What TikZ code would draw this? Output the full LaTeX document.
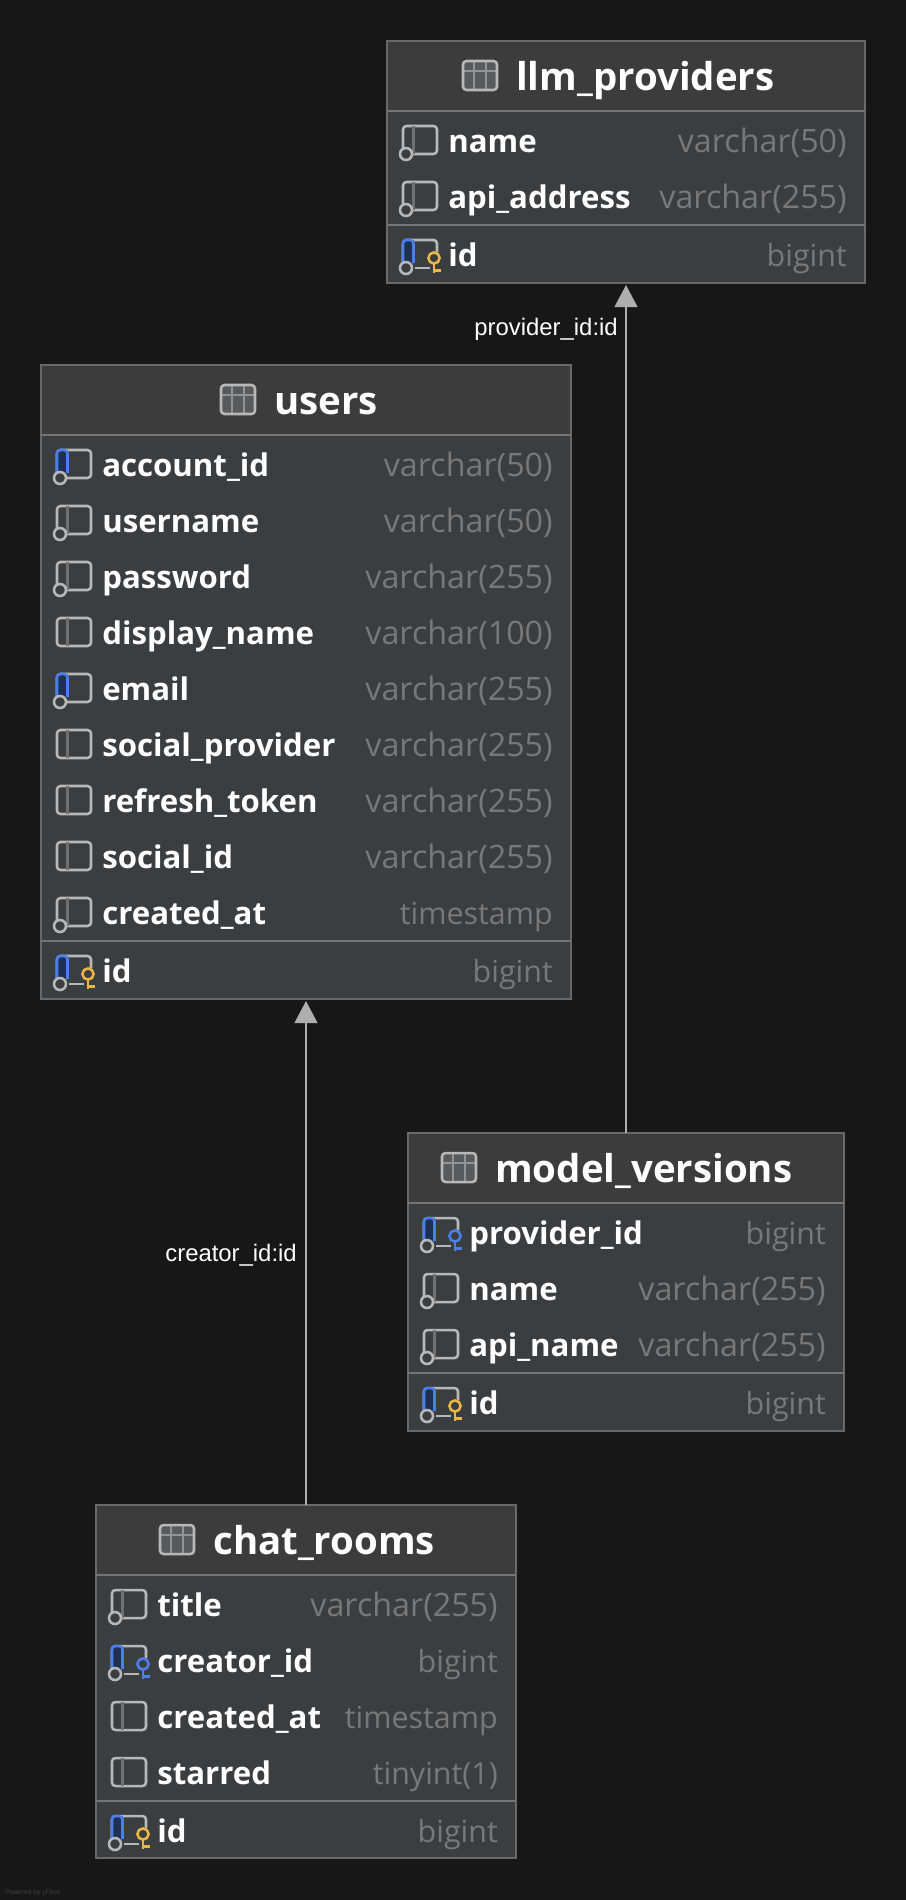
\documentclass[tikz,border=0pt]{standalone}
\usepackage{fontspec}
\setmainfont{Open Sans}
\newfontfamily\labelfont{Liberation Sans}
\usetikzlibrary{arrows.meta}
\definecolor{bgc}{HTML}{171717}
\definecolor{headc}{HTML}{3C3C3C}
\definecolor{rowc}{HTML}{3B3E41}
\definecolor{edgec}{HTML}{696969}
\definecolor{sepc}{HTML}{757575}
\definecolor{typec}{HTML}{787878}
\definecolor{iconc}{HTML}{B8B8B8}
\definecolor{divc}{HTML}{707070}
\definecolor{bluec}{HTML}{4B80EC}
\definecolor{bluedark}{HTML}{1F3152}
\definecolor{goldc}{HTML}{EBB544}
\definecolor{linkc}{HTML}{AEAEAE}
\newcommand{\narrowtype}[1]{{\fontsize{22.8}{27}\selectfont #1}}
\tikzset{
  tablebox/.style={draw=edgec,fill=rowc,line width=1.2pt,inner sep=0pt,outer sep=0pt,anchor=north west},
  titletext/.style={text=white,font=\fontsize{28.8}{36}\selectfont\bfseries,anchor=base west,inner sep=0pt},
  colname/.style={text=white,font=\fontsize{23.4}{27}\selectfont\bfseries,anchor=base west,inner sep=0pt},
  coltype/.style={text=typec,font=\fontsize{24.2}{27}\selectfont,anchor=base east,inner sep=0pt},
  linklabel/.style={text=white,font=\labelfont\fontsize{17.9}{21}\selectfont,anchor=base east,inner sep=0pt},
  link/.style={draw=linkc,line width=1.7pt,-{Triangle[length=16.5pt,width=17pt,fill=linkc]}},
  ic/.style={draw=iconc,line width=1.9pt},
}
\newcommand{\tabicon}[2]{%
\begin{scope}[shift={(#1,#2)}]
  \fill[rowc!85!white,rounded corners=2.6pt] (0,0) rectangle (34,29);
  \draw[iconc!80!black,line width=1.5pt] (0,10) -- (34,10) (11,0) -- (11,29) (23,0) -- (23,29);
  \draw[ic,rounded corners=2.6pt] (0,0) rectangle (34,29);
\end{scope}}
% \ikon{x}{y}{blue}{circle}{key: 0 none,1 gold,2 blue}
\newcommand{\ikon}[5]{%
\begin{scope}[shift={(#1,#2)}]
  \ifnum#5=0
    \draw[ic,rounded corners=2.6pt] (0,-15) rectangle (34,13);
  \else
    \draw[ic] (12,13) -- (27,13);
    \draw[ic,rounded corners=2.6pt] (10,-15) -- (34,-15) -- (34,-3);
    \draw[ic,rounded corners=2.6pt] (10,-15) -- (0,-15) -- (0,13) -- (8,13);
  \fi
  \ifnum#3=1
    \fill[bluedark] (0,-15) rectangle (10.5,8);
    \draw[draw=bluec,line width=1.9pt,rounded corners=2.6pt] (0,8) -- (0,-15) -- (10.5,-15) -- (10.5,8);
  \else
    \draw[divc,line width=1.9pt] (10.5,-15) -- (10.5,13);
  \fi
  \ifnum#4=1
    \draw[ic,fill=rowc] (3,13) circle [radius=6];
  \fi
  \ifnum#5>0
    \ifnum#5=1 \colorlet{kk}{goldc}\else \colorlet{kk}{bluec}\fi
    \draw[kk,line width=1.9pt,fill=rowc] (31,3) circle [radius=5.6];
    \draw[kk,line width=1.9pt] (31,8.5) -- (31,18);
    \draw[kk,line width=1.9pt] (31,15.5) -- (38,15.5);
  \fi
\end{scope}}
\newcommand{\trow}[9]{%
  \ikon{#1+16}{#3}{#6}{#7}{#8}
  \node[colname] (#2n) at (#1+61,#3+11) {#4};
  \node[coltype] (#2t) at (#9-18,#3+11) {#5};
}
\begin{document}
\begin{tikzpicture}[x=0.75pt,y=-0.75pt]
\useasboundingbox (0,0) rectangle (906,1900);
\fill[bgc] (0,0) rectangle (906,1900);

% llm_providers
\node[tablebox,minimum width=358.5pt,minimum height=181.5pt] (llm) at (387,41) {};
\fill[headc] (387.8,41.8) rectangle (864.2,110);
\draw[sepc,line width=1.5pt] (387,111) -- (865,111);
\draw[sepc,line width=1.5pt] (387,224.5) -- (865,224.5);
\tabicon{463}{61}
\node[titletext] (llmtitle) at (516,90) {llm\_providers};
\trow{387}{la}{141}{name}{varchar(50)}{0}{1}{0}{865}
\trow{387}{lb}{197}{api\_address}{varchar(255)}{0}{1}{0}{865}
\trow{387}{lc}{255}{id}{\narrowtype{bigint}}{1}{1}{1}{865}

% users
\node[tablebox,minimum width=397.5pt,minimum height=475.5pt] (users) at (41,365) {};
\fill[headc] (41.8,365.8) rectangle (570.2,434);
\draw[sepc,line width=1.5pt] (41,435) -- (571,435);
\draw[sepc,line width=1.5pt] (41,941) -- (571,941);
\tabicon{221}{385}
\node[titletext] (userstitle) at (274,414) {users};
\trow{41}{ua}{465}{account\_id}{varchar(50)}{1}{1}{0}{571}
\trow{41}{ub}{521}{username}{varchar(50)}{0}{1}{0}{571}
\trow{41}{uc}{577}{password}{varchar(255)}{0}{1}{0}{571}
\trow{41}{ud}{633}{display\_name}{varchar(100)}{0}{0}{0}{571}
\trow{41}{ue}{689}{email}{varchar(255)}{1}{1}{0}{571}
\trow{41}{uf}{745}{social\_provider}{varchar(255)}{0}{0}{0}{571}
\trow{41}{ug}{801}{refresh\_token}{varchar(255)}{0}{0}{0}{571}
\trow{41}{uh}{857}{social\_id}{varchar(255)}{0}{0}{0}{571}
\trow{41}{ui}{913}{created\_at}{\narrowtype{timestamp}}{0}{1}{0}{571}
\trow{41}{uj}{971}{id}{\narrowtype{bigint}}{1}{1}{1}{571}

% model_versions
\node[tablebox,minimum width=327pt,minimum height=223.5pt] (model) at (408,1133) {};
\fill[headc] (408.8,1133.8) rectangle (843.2,1202);
\draw[sepc,line width=1.5pt] (408,1203) -- (844,1203);
\draw[sepc,line width=1.5pt] (408,1373) -- (844,1373);
\tabicon{442}{1153}
\node[titletext] (modeltitle) at (495,1182) {model\_versions};
\trow{408}{ma}{1233}{provider\_id}{\narrowtype{bigint}}{1}{1}{2}{844}
\trow{408}{mb}{1289}{name}{varchar(255)}{0}{1}{0}{844}
\trow{408}{mc}{1345}{api\_name}{varchar(255)}{0}{1}{0}{844}
\trow{408}{md}{1403}{id}{\narrowtype{bigint}}{1}{1}{1}{844}

% chat_rooms
\node[tablebox,minimum width=315pt,minimum height=264.75pt] (chat) at (96,1505) {};
\fill[headc] (96.8,1505.8) rectangle (515.2,1574);
\draw[sepc,line width=1.5pt] (96,1575) -- (516,1575);
\draw[sepc,line width=1.5pt] (96,1801) -- (516,1801);
\tabicon{160}{1525}
\node[titletext] (chattitle) at (213,1554) {chat\_rooms};
\trow{96}{ca}{1605}{title}{varchar(255)}{0}{1}{0}{516}
\trow{96}{cb}{1661}{creator\_id}{\narrowtype{bigint}}{1}{1}{2}{516}
\trow{96}{cc}{1717}{created\_at}{\narrowtype{timestamp}}{0}{0}{0}{516}
\trow{96}{cd}{1773}{starred}{\narrowtype{tinyint(1)}}{0}{0}{0}{516}
\trow{96}{ce}{1831}{id}{\narrowtype{bigint}}{1}{1}{1}{516}

% connectors
\draw[link] (model.north) -- ([yshift=-1.5pt]llm.south);
\draw[link] (chat.north) -- ([yshift=-1.5pt]users.south);
\node[linklabel] (lbl1) at (618,335) {provider\_id:id};
\node[linklabel] (lbl2) at (297,1261) {creator\_id:id};
\node[text=white!18!bgc,font=\labelfont\fontsize{5}{6}\selectfont,anchor=base west,inner sep=0pt] (pow) at (5,1894) {Powered by yFiles};
\end{tikzpicture}
\end{document}
